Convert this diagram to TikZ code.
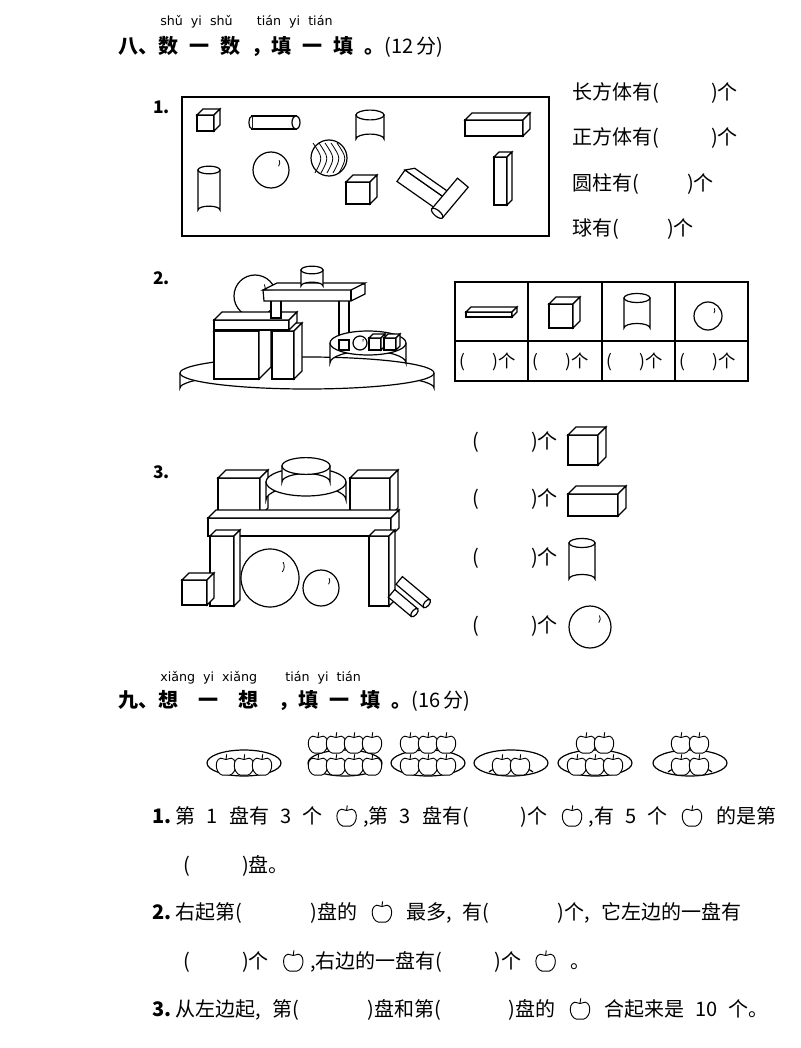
\documentclass[tikz,border=0pt]{standalone}
\usepackage{fontspec}
\setmainfont{Noto Sans CJK SC}
\newfontfamily\pyfont{DejaVu Sans}
\tikzset{
  ln/.style={line width=0.9pt},
  txt/.style={anchor=west,inner sep=0pt,font=\fontsize{15}{17}\selectfont},
  head/.style={anchor=west,inner sep=0pt,font=\fontsize{15}{17}\selectfont\bfseries},
  py/.style={anchor=west,inner sep=0pt,font=\pyfont\fontsize{9.5}{10}\selectfont},
  num/.style={anchor=west,inner sep=0pt,font=\fontsize{13}{15}\selectfont\bfseries},
  apple/.pic={\begin{scope}[scale=1.3]\draw[line width=0.7pt,fill=white] (0,7) .. controls (-8,9) and (-10,-5) .. (-4,-6) .. controls (-2,-6) .. (0,-5) .. controls (2,-6) .. (4,-6) .. controls (10,-5) and (8,9) .. (0,7);
              \draw[line width=0.7pt] (0,-5) -- (0.5,-9);\end{scope}}
}
\newcommand\ap{\tikz[baseline=-5pt,x=0.75pt,y=-0.75pt]{\pic{apple};}}
\newcommand\blank[1]{(\hspace{#1})}
\newcommand\s{\hspace{0.55em}}
% cuboid: x y w h d
\newcommand\cuboid[5]{\draw[ln,fill=white] (#1,#2) rectangle ++(#3,#4);
 \draw[ln,fill=white] (#1,#2) -- ++(#5,-#5) -- ++(#3,0) -- ++(-#5,#5) -- cycle;
 \draw[ln,fill=white] (#1+#3,#2) -- ++(#5,-#5) -- ++(0,#4) -- ++(-#5,#5) -- cycle;}
% cylinder: cx top rx h
\newcommand\cyl[4]{\draw[ln,fill=white] (#1-#3,#2) -- (#1-#3,#2+#4) arc[start angle=180,end angle=360,x radius=#3,y radius=0.35*#3] -- (#1+#3,#2) -- cycle;
 \draw[ln,fill=white] (#1,#2) ellipse[x radius=#3,y radius=0.35*#3];}
% sphere: cx cy r
\newcommand\sph[3]{\draw[ln,fill=white] (#1,#2) circle[radius=#3];
 \draw[line width=0.6pt] (#1+0.45*#3,#2-0.55*#3) arc[start angle=-30,end angle=40,radius=0.3*#3];}
\begin{document}
\begin{tikzpicture}[x=0.75pt,y=-0.75pt]
\useasboundingbox (0,0) rectangle (800,1048);
% ===== section 8
\node[py] (p1) at (160,22) {shǔ\ \ yi\ \ shǔ\ \ \ \ \ \ tián\ \ yi\ \ tián};
\node[head] (h8) at (118,47) {八、数\s 一\s 数\s ，填\s 一\s 填\s 。{\normalfont(12\,分)}};
% 1
\node[num] (n1) at (153,107) {1.};
\draw[ln] (182,97) rectangle (549,236);
\cuboid{197}{115}{17}{16}{6}
\draw[ln,fill=white] (252,116) rectangle (296,129);
\draw[ln,fill=white] (296,122.5) ellipse[x radius=4,y radius=6.5];
\draw[ln,fill=white] (252,116) arc[start angle=-90,end angle=-270,x radius=3,y radius=6.5];
\cyl{370}{115}{14}{24}
\cuboid{465}{120}{58}{16}{7}
\cyl{209}{170}{11}{40}
\sph{271}{170}{18}
\draw[ln,fill=white] (329,158) circle[radius=18];
\foreach \a in {-12,-6,0,6,12}{\draw[line width=0.6pt] (329+\a-4,158-15) .. controls (329+\a+6,158) .. (329+\a-2,158+15);}
\begin{scope}[shift={(405,170)},rotate=-35]
\cuboid{0}{0}{52}{14}{7}
\end{scope}
\cuboid{346}{182}{24}{22}{7}
\begin{scope}[shift={(450,198)},rotate=50]
\draw[ln,fill=white] (-20,-7) rectangle (20,7);
\draw[ln,fill=white] (-20,0) ellipse[x radius=3,y radius=7];
\end{scope}
\cuboid{494}{157}{13}{48}{5}
\node[txt] (t1) at (572,93) {长方体有\blank{2.6em}个};
\node[txt] (t2) at (572,138) {正方体有\blank{2.6em}个};
\node[txt] (t3) at (572,184) {圆柱有\blank{2.4em}个};
\node[txt] (t4) at (572,229) {球有\blank{2.4em}个};
% 2
\node[num] (n2) at (153,278) {2.};
\draw[ln,fill=white] (180,373) -- (180,388) arc[start angle=180,end angle=360,x radius=127,y radius=16] -- (434,373);
\draw[ln,fill=white] (307,373) ellipse[x radius=127,y radius=16];
\cuboid{214}{331}{45}{48}{12}
\cuboid{272}{331}{22}{48}{8}
\sph{255}{296}{21}
\cuboid{214}{320}{75}{10}{8}
\draw[ln,fill=white] (271,300) rectangle (281,318);
\draw[ln,fill=white] (339,300) rectangle (349,348);
\draw[ln,fill=white] (263,290) -- (264,301) -- (351,301) -- (365,294) -- (365,284) -- cycle;
\draw[ln,fill=white] (263,290) -- (277,283) -- (365,283) -- (351,290) -- cycle;
\draw[ln] (351,290) -- (351,301);
\cyl{312}{270}{11}{16}
\draw[ln,fill=white] (330,343) -- (330,363) arc[start angle=180,end angle=360,x radius=38,y radius=12] -- (406,343);
\draw[ln,fill=white] (368,343) ellipse[x radius=38,y radius=12];
\draw[ln,fill=white] (339,340) rectangle (349,350);
\sph{360}{343}{7}
\cuboid{369}{338}{12}{12}{4}
\cuboid{384}{338}{12}{12}{4}
% table
\draw[ln] (455,282) rectangle (748,381);
\draw[ln] (455,341) -- (748,341);
\foreach \xx in {528,602,675}{\draw[ln] (\xx,282) -- (\xx,381);}
\cuboid{466}{312}{46}{5}{5}
\cuboid{549}{304}{24}{24}{7}
\cyl{637}{298}{13}{30}
\sph{708}{316}{14}
\foreach \xx/\nm in {459/a,532/b,606/c,679/d}{\node[txt,font=\fontsize{13}{14}\selectfont] (c\nm) at (\xx,362) {\blank{1.6em}个};}
% 3
\node[num] (n3) at (153,472) {3.};
\cuboid{218}{478}{42}{38}{8}
\cuboid{350}{478}{40}{38}{8}
\cyl{306}{482}{40}{18}
\cyl{306}{466}{24}{16}
\cuboid{208}{518}{183}{18}{8}
\cuboid{210}{536}{24}{70}{6}
\cuboid{369}{536}{20}{70}{6}
\cuboid{182}{580}{25}{25}{7}
\sph{270}{578}{29}
\sph{321}{588}{18}
\begin{scope}[shift={(413,592)},rotate=-40]
\draw[ln,fill=white] (-18,-5) rectangle (18,5);
\draw[ln,fill=white] (18,0) ellipse[x radius=2.5,y radius=5];
\end{scope}
\begin{scope}[shift={(403,603)},rotate=-40]
\draw[ln,fill=white] (-15,-5) rectangle (15,5);
\draw[ln,fill=white] (15,0) ellipse[x radius=2.5,y radius=5];
\end{scope}
\node[txt] (r1) at (472,442) {\blank{2.6em}个};
\node[txt] (r2) at (472,499) {\blank{2.6em}个};
\node[txt] (r3) at (472,558) {\blank{2.6em}个};
\node[txt] (r4) at (472,626) {\blank{2.6em}个};
\cuboid{568}{435}{30}{30}{8}
\cuboid{568}{494}{50}{22}{8}
\cyl{582}{543}{13}{36}
\sph{590}{627}{21}
% ===== section 9
\node[py] (p2) at (160,678) {xiǎng\ \ yi\ \ xiǎng\ \ \ \ \ \ \ tián\ \ yi\ \ tián};
\node[head] (h9) at (118,701) {九、想\hspace{1em}一\hspace{1em}想\hspace{1em}，填\s 一\s 填\s 。{\normalfont(16\,分)}};
\foreach \cx/\nm in {244/a,345/b,428/c,511/d,595/e,690/f}{
  \draw[ln] (\cx-22,772) arc[start angle=200,end angle=340,x radius=23.4,y radius=8];
  \draw[ln] (\cx,763) ellipse[x radius=37,y radius=13];
}
\foreach \xx in {226,244,262}{\pic at (\xx,766) {apple};}
\foreach \xx in {318,336,354,372}{\pic at (\xx,766) {apple};\pic at (\xx,744) {apple};}
\foreach \xx in {410,428,446}{\pic at (\xx,766) {apple};\pic at (\xx,744) {apple};}
\foreach \xx in {502,520}{\pic at (\xx,766) {apple};}
\foreach \xx in {577,595,613}{\pic at (\xx,766) {apple};}
\foreach \xx in {586,604}{\pic at (\xx,744) {apple};}
\foreach \xx in {681,699}{\pic at (\xx,766) {apple};\pic at (\xx,744) {apple};}
\node[txt] (q1) at (152,817) {\textbf{1.}\ 第\s 1\s 盘有\s 3\s 个\s\ap\,,第\s 3\s 盘有\blank{2.6em}个\s\ap\,,有\s 5\s 个\s\ap\s 的是第};
\node[txt] (q1b) at (183,866) {\blank{2.6em}盘。};
\node[txt] (q2) at (152,913) {\textbf{2.}\ 右起第\blank{3.4em}盘的\s\ap\s 最多,\s 有\blank{3.4em}个,\s 它左边的一盘有};
\node[txt] (q2b) at (183,962) {\blank{2.6em}个\s\ap\,,右边的一盘有\blank{2.6em}个\s\ap\s 。};
\node[txt] (q3) at (152,1010) {\textbf{3.}\ 从左边起,\s 第\blank{3.4em}盘和第\blank{3.4em}盘的\s\ap\s 合起来是\s 10\s 个。};
\end{tikzpicture}
\end{document}
